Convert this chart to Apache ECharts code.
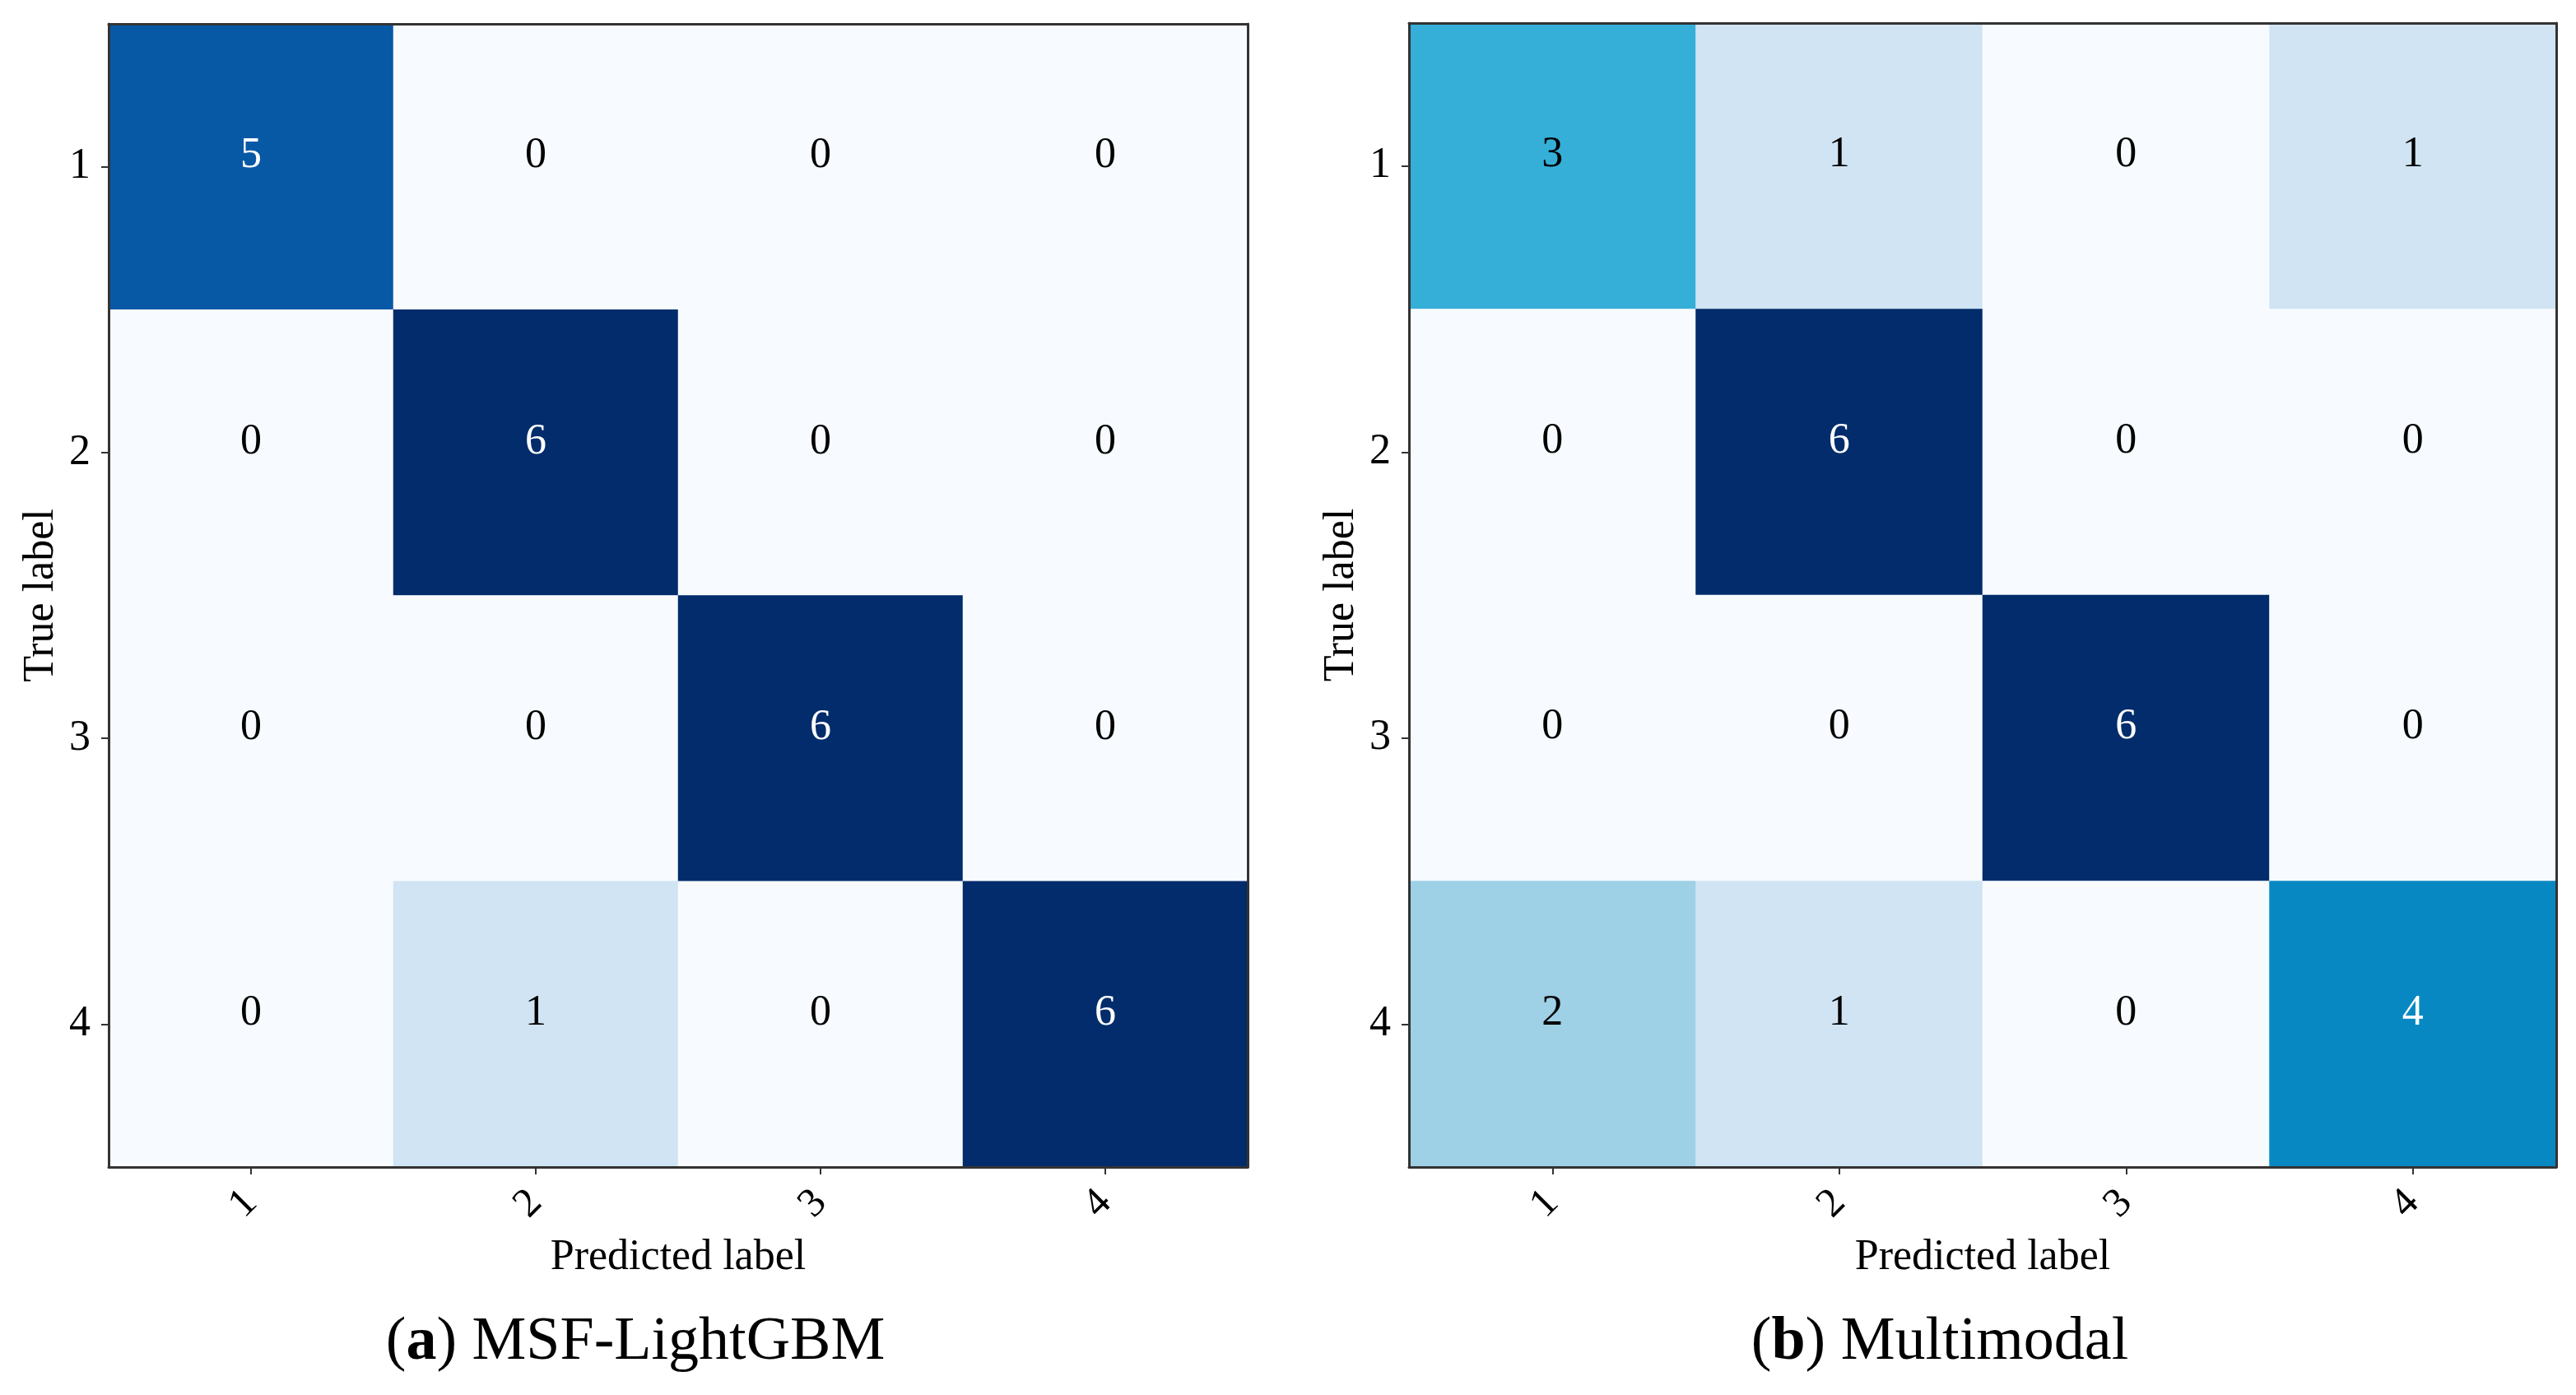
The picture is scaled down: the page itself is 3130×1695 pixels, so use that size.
<!DOCTYPE html>
<html>
<head>
<meta charset="utf-8">
<script src="https://cdn.jsdelivr.net/npm/echarts@6/dist/echarts.min.js"></script>
<style>
html,body{margin:0;padding:0;background:#fff;}
#chart{width:3130px;height:1695px;}
</style>
</head>
<body>
<div id="chart"></div>
<script>
// ---- data ----
const categories = ['1', '2', '3', '4'];
// rows = true label, columns = predicted label
const cmLightGBM = [
  [5, 0, 0, 0],
  [0, 6, 0, 0],
  [0, 0, 6, 0],
  [0, 1, 0, 6]
];
const cmMultimodal = [
  [3, 1, 0, 1],
  [0, 6, 0, 0],
  [0, 0, 6, 0],
  [2, 1, 0, 4]
];
const captionA = ['a', ' MSF-LightGBM'];
const captionB = ['b', ' Multimodal'];
const xName = 'Predicted label';
const yName = 'True label';

// ---- styling ----
const FONT = '"Liberation Serif", "Times New Roman", serif';
const cellColors = ['#f7fbff', '#d0e4f3', '#9ed0e6', '#35afd8', '#0888c2', '#0859a5', '#022c6b'];
const thresh = 3;

function toData(cm) {
  const out = [];
  cm.forEach((row, i) => row.forEach((v, j) => {
    out.push({ value: [j, i, v], label: { color: v > thresh ? '#ffffff' : '#000000' } });
  }));
  return out;
}

const grids = [
  { left: 132, top: 29, width: 1384, height: 1389 },
  { left: 1712, top: 28, width: 1394, height: 1390 }
];

const axisLineStyle = { color: '#333333', width: 3 };

const xAxes = [], yAxes = [];
grids.forEach((g, k) => {
  xAxes.push({
    type: 'category', data: categories, gridIndex: k, position: 'bottom', z: 5,
    axisLine: { lineStyle: axisLineStyle },
    axisTick: { show: true, alignWithLabel: true, length: 9, lineStyle: { color: '#333', width: 2 } },
    axisLabel: { rotate: 45, margin: 36, fontFamily: FONT, fontSize: 50, color: '#000' },
    splitLine: { show: false },
    name: xName, nameLocation: 'middle', nameGap: 84,
    nameTextStyle: { fontFamily: FONT, fontSize: 52, color: '#000' }
  });
  xAxes.push({
    type: 'category', data: categories, gridIndex: k, position: 'top', z: 5,
    axisLine: { lineStyle: axisLineStyle },
    axisTick: { show: false }, axisLabel: { show: false }, splitLine: { show: false }
  });
  yAxes.push({
    type: 'category', data: categories, gridIndex: k, position: 'left', inverse: true, z: 5,
    axisLine: { lineStyle: axisLineStyle },
    axisTick: { show: true, alignWithLabel: true, length: 9, lineStyle: { color: '#333', width: 2 } },
    axisLabel: { margin: 22, fontFamily: FONT, fontSize: 52, color: '#000' },
    splitLine: { show: false },
    name: yName, nameLocation: 'middle', nameGap: 56, nameRotate: 90,
    nameTextStyle: { fontFamily: FONT, fontSize: 52, color: '#000' }
  });
  yAxes.push({
    type: 'category', data: categories, gridIndex: k, position: 'right', inverse: true, z: 5,
    axisLine: { lineStyle: axisLineStyle },
    axisTick: { show: false }, axisLabel: { show: false }, splitLine: { show: false }
  });
});

function heat(k, cm) {
  return {
    type: 'heatmap', xAxisIndex: 2 * k, yAxisIndex: 2 * k,
    data: toData(cm),
    label: { show: true, fontFamily: FONT, fontSize: 52, offset: [0, -13] },
    itemStyle: { borderWidth: 0 },
    emphasis: { disabled: true }
  };
}

function caption(x, parts) {
  return {
    type: 'text', x: x, y: 1632,
    style: {
      text: '({b|' + parts[0] + '}){n|' + parts[1] + '}',
      textAlign: 'center', textVerticalAlign: 'middle',
      font: '74px ' + FONT, fill: '#000',
      rich: {
        b: { fontFamily: FONT, fontSize: 74, fontWeight: 'bold', fill: '#000' },
        n: { fontFamily: FONT, fontSize: 74, fill: '#000' }
      }
    }
  };
}

const chart = echarts.init(document.getElementById('chart'), null, { renderer: 'canvas' });
chart.setOption({
  backgroundColor: '#ffffff',
  animation: false,
  grid: grids,
  xAxis: xAxes,
  yAxis: yAxes,
  visualMap: {
    type: 'piecewise', show: false, dimension: 2, seriesIndex: [0, 1],
    pieces: cellColors.map((c, v) => ({ value: v, color: c }))
  },
  series: [heat(0, cmLightGBM), heat(1, cmMultimodal)],
  graphic: [caption(772, captionA), caption(2357, captionB)]
});
</script>
</body>
</html>
